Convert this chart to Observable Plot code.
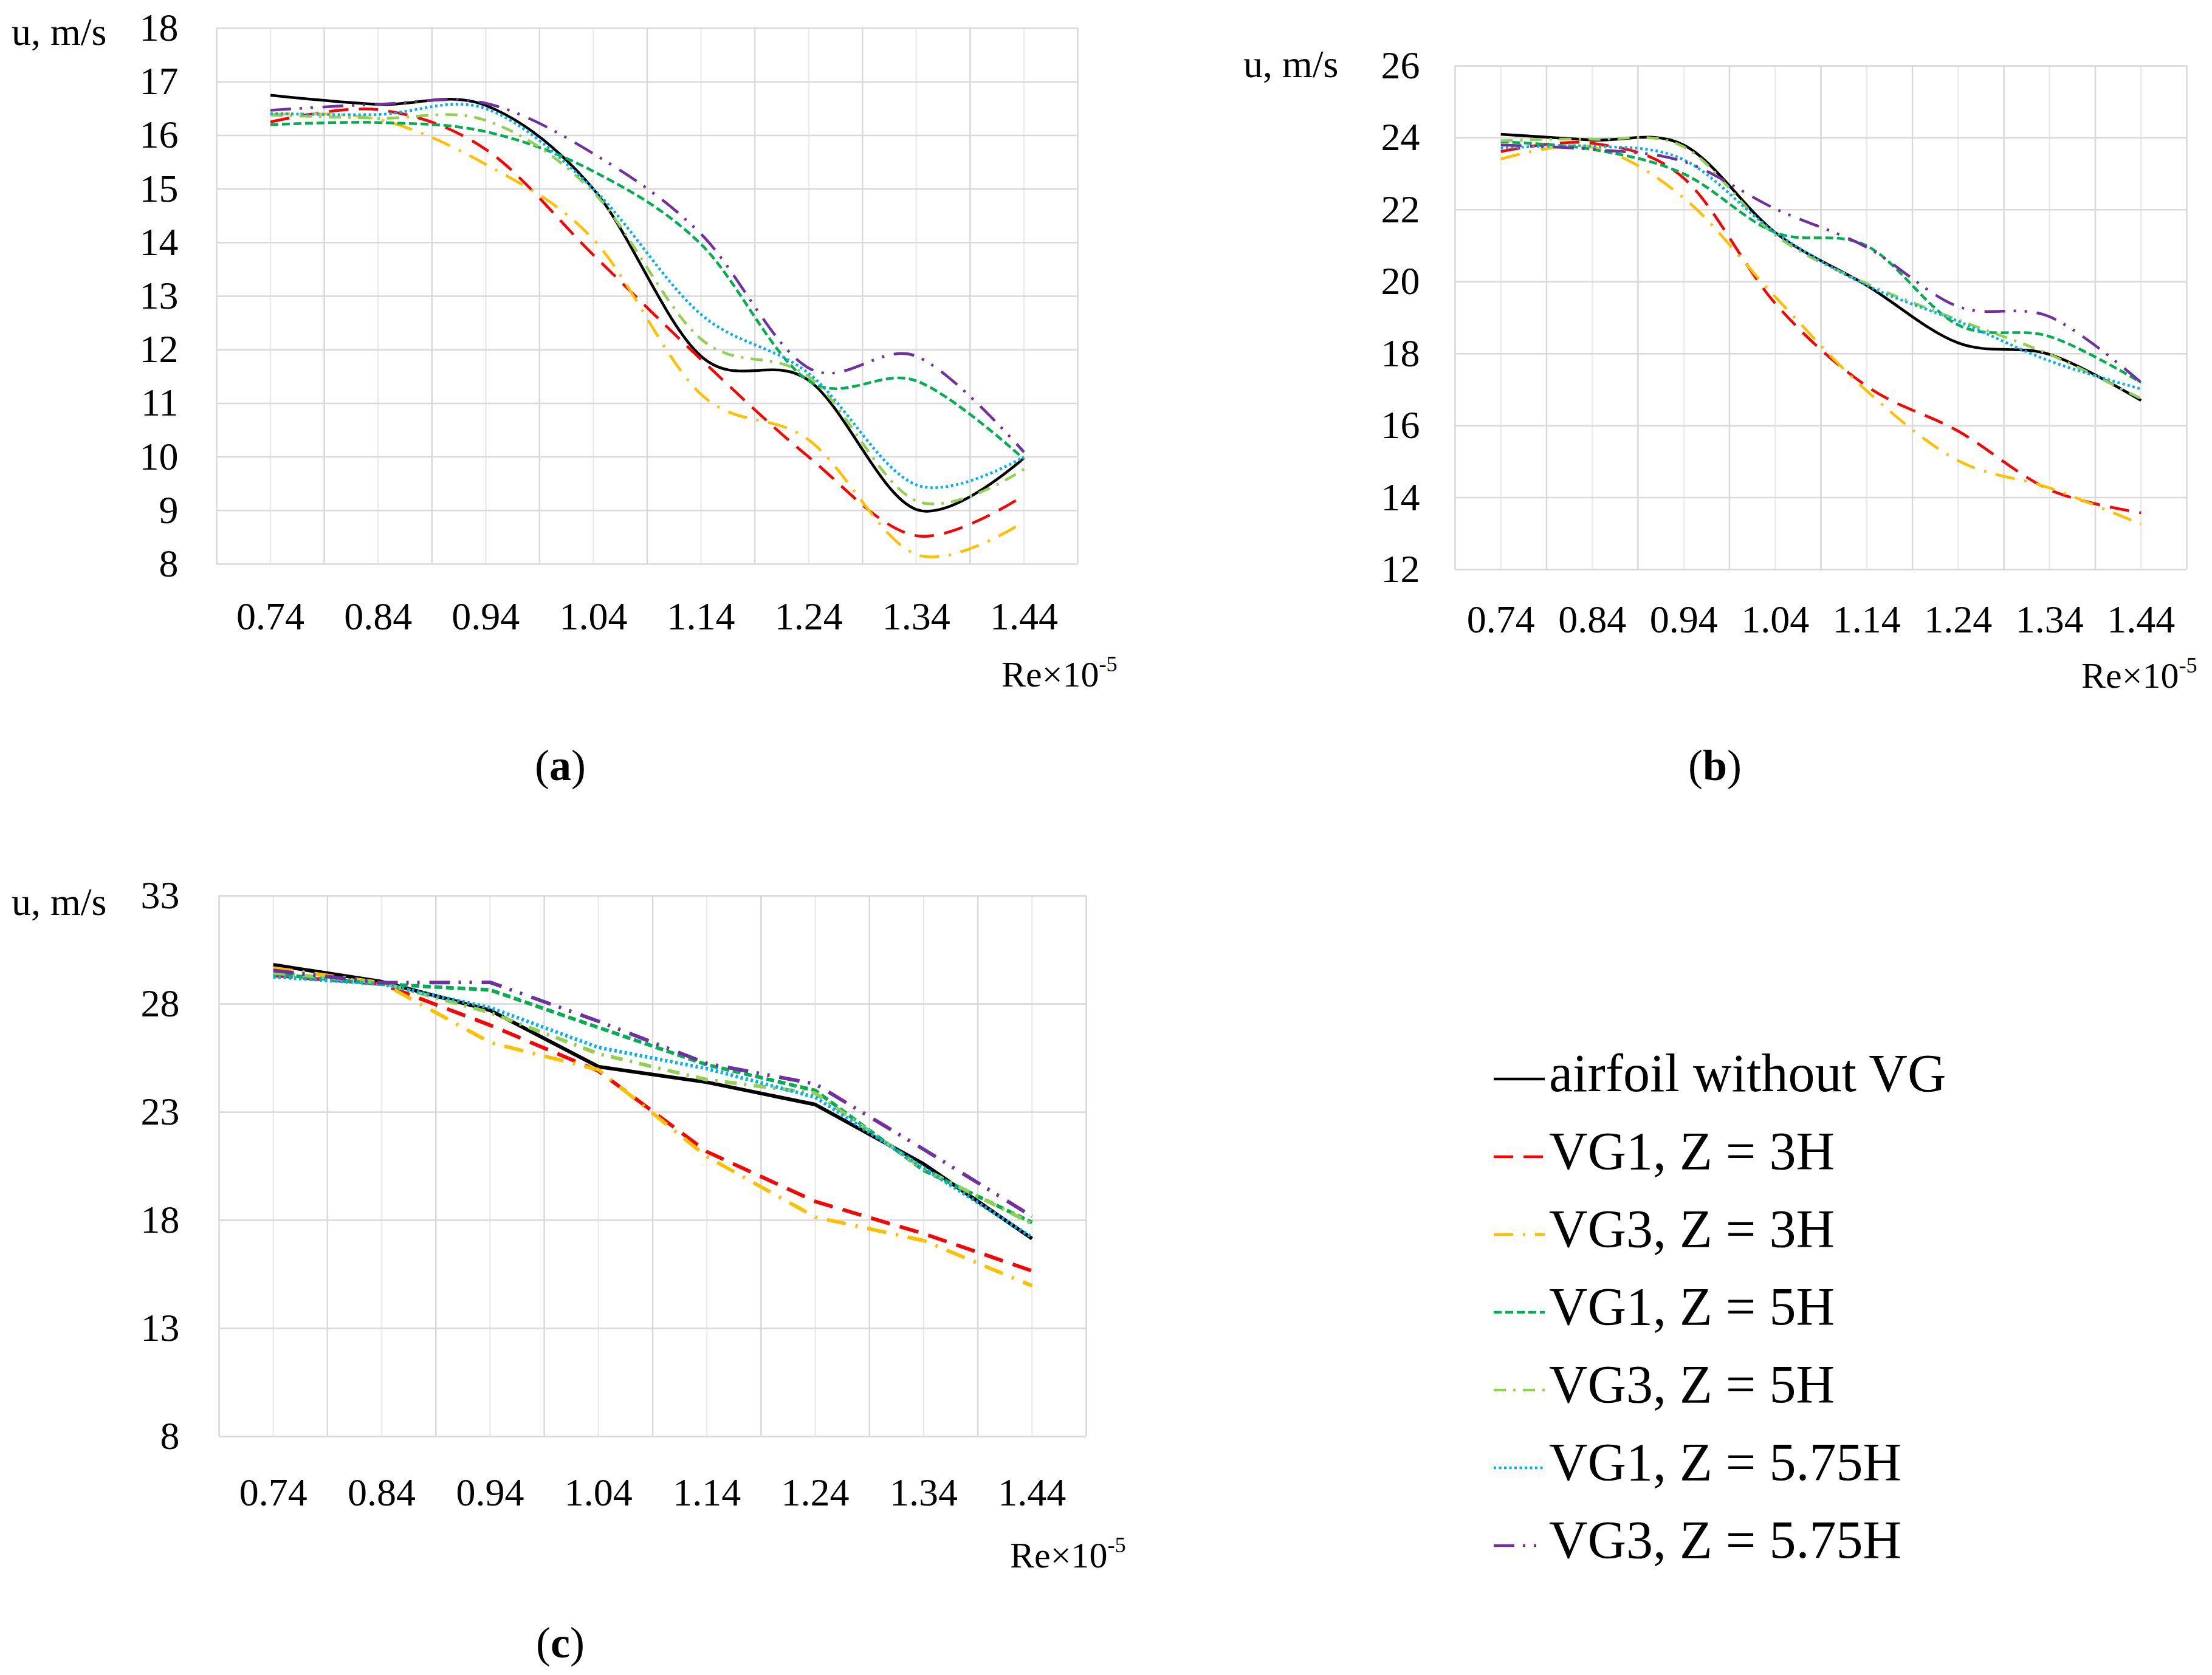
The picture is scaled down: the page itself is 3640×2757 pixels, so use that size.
<!DOCTYPE html>
<html>
<head>
<meta charset="utf-8">
<script src="https://cdn.jsdelivr.net/npm/d3@7"></script>
<script src="https://cdn.jsdelivr.net/npm/@observablehq/plot@0.6"></script>
<style>
  body { margin: 0; background: #fff; }
  #page { position: relative; width: 3640px; height: 2757px; background: #fff; font-family: "Liberation Serif", serif; color: #000; overflow: hidden; }
  .txt { position: absolute; line-height: 1; white-space: nowrap; }
  .panel { position: absolute; }
  sup { font-size: 0.6em; vertical-align: 0.7em; line-height: 0; }
</style>
</head>
<body>
<div id="page"></div>
<script>
// Reynolds number categories (Re x 10^-5)
const re = [0.74, 0.84, 0.94, 1.04, 1.14, 1.24, 1.34, 1.44];
const seriesNames = ['airfoil without VG', 'VG1, Z = 3H', 'VG3, Z = 3H', 'VG1, Z = 5H', 'VG3, Z = 5H', 'VG1, Z = 5.75H', 'VG3, Z = 5.75H'];

// panel (a)
const aAirfoil = [16.75, 16.58, 16.56, 15.0, 11.88, 11.43, 9.02, 9.98];
const aVG1_3H = [16.25, 16.48, 15.74, 13.77, 11.82, 10.0, 8.53, 9.28];
const aVG3_3H = [16.39, 16.3, 15.46, 14.06, 11.17, 10.32, 8.18, 8.79];
const aVG1_5H = [16.2, 16.24, 16.07, 15.33, 13.97, 11.42, 11.42, 9.96];
const aVG3_5H = [16.38, 16.32, 16.28, 14.94, 12.2, 11.5, 9.18, 9.77];
const aVG1_575H = [16.41, 16.39, 16.5, 15.0, 12.66, 11.56, 9.48, 10.0];
const aVG3_575H = [16.47, 16.58, 16.6, 15.66, 14.16, 11.66, 11.88, 10.09];
const aTicks = [8, 9, 10, 11, 12, 13, 14, 15, 16, 17, 18];

// panel (b)
const bAirfoil = [24.1, 23.94, 23.8, 21.37, 19.9, 18.3, 17.98, 16.7];
const bVG1_3H = [23.62, 23.85, 22.88, 19.4, 17.1, 15.85, 14.22, 13.58];
const bVG3_3H = [23.41, 23.74, 22.33, 19.58, 16.97, 15.03, 14.27, 13.26];
const bVG1_5H = [23.89, 23.68, 23.0, 21.37, 21.0, 18.8, 18.48, 17.2];
const bVG3_5H = [23.92, 23.96, 23.75, 21.3, 19.95, 18.94, 17.98, 16.75];
const bVG1_575H = [23.71, 23.77, 23.39, 21.37, 19.9, 18.9, 17.8, 17.02];
const bVG3_575H = [23.8, 23.68, 23.34, 22.03, 20.96, 19.31, 19.03, 17.2];
const bTicks = [12, 14, 16, 18, 20, 22, 24, 26];

// panel (c)
const cAirfoil = [29.81, 29.03, 27.71, 25.1, 24.38, 23.35, 20.6, 17.15];
const cVG1_3H = [29.32, 28.92, 27.02, 24.9, 21.17, 18.87, 17.38, 15.66];
const cVG3_3H = [29.66, 28.98, 26.22, 24.96, 20.94, 18.15, 17.06, 14.97];
const cVG1_5H = [29.38, 28.92, 28.65, 26.91, 25.19, 24.0, 20.31, 17.9];
const cVG3_5H = [29.44, 28.98, 27.6, 25.7, 24.5, 23.87, 20.37, 17.84];
const cVG1_575H = [29.26, 28.92, 27.83, 25.99, 25.01, 23.69, 20.42, 17.21];
const cVG3_575H = [29.55, 28.98, 29.0, 27.2, 25.25, 24.3, 21.28, 18.18];
const cTicks = [8, 13, 18, 23, 28, 33];

// line styles, in legend order
const colors = ['#000000', '#ff0000', '#ffc000', '#00b050', '#92d050', '#00b0f0', '#7030a0'];
const dashes = [null, '32,17', '32,16,4,16', '13,6', '20,12,4,12', '4,4.5', '34,14,4,14,4,16'];

// grid lines: light at categories, darker between them
const minorX = re;
const majorX = [0.69, 0.79, 0.89, 0.99, 1.09, 1.19, 1.29, 1.39, 1.49];

const page = d3.select('#page');

function drawPanel(cfg) {
  const lines = cfg.series.map((vals, i) =>
    Plot.line(re.map((x, j) => ({x, y: vals[j]})), {
      x: 'x', y: 'y',
      stroke: colors[i],
      strokeWidth: cfg.sw,
      strokeDasharray: dashes[i],
      strokeLinecap: 'butt',
      curve: cfg.curve
    })
  );
  const chart = Plot.plot({
    width: cfg.width, height: cfg.height,
    marginLeft: cfg.ml, marginTop: cfg.mt, marginRight: cfg.mr, marginBottom: cfg.mb,
    style: {fontFamily: 'Liberation Serif', fontSize: '64px', background: 'transparent', color: '#000', overflow: 'visible'},
    x: {domain: [0.69, 1.49]},
    y: {domain: [cfg.ticks[0], cfg.ticks[cfg.ticks.length - 1]]},
    marks: [
      Plot.ruleX(minorX, {stroke: '#ebebeb', strokeWidth: 2.5}),
      Plot.ruleY(cfg.ticks, {stroke: '#d9d9d9', strokeWidth: 2.5}),
      Plot.ruleX(majorX, {stroke: '#d9d9d9', strokeWidth: 2.5}),
      Plot.axisX({ticks: re, tickSize: 0, tickPadding: cfg.xPad, tickFormat: d => d.toFixed(2), label: null, fontSize: 64}),
      Plot.axisY({ticks: cfg.ticks, tickSize: 0, tickPadding: cfg.yPad, label: null, fontSize: 64}),
      ...lines
    ]
  });
  page.append('div').attr('class', 'panel')
    .style('left', cfg.left + 'px').style('top', cfg.top + 'px')
    .append(() => chart);
}

drawPanel({left: 0, top: 0, width: 1900, height: 1100, ml: 356, mt: 46, mr: 127, mb: 172,
  xPad: 62, yPad: 63, sw: 4.5, curve: 'cardinal', ticks: aTicks,
  series: [aAirfoil, aVG1_3H, aVG3_3H, aVG1_5H, aVG3_5H, aVG1_575H, aVG3_575H]});
drawPanel({left: 2000, top: 0, width: 1640, height: 1150, ml: 394, mt: 108, mr: 42, mb: 213,
  xPad: 58, yPad: 58, sw: 4.5, curve: 'cardinal', ticks: bTicks,
  series: [bAirfoil, bVG1_3H, bVG3_3H, bVG1_5H, bVG3_5H, bVG1_575H, bVG3_575H]});
drawPanel({left: 0, top: 1400, width: 1900, height: 1150, ml: 360, mt: 74, mr: 113, mb: 186,
  xPad: 68, yPad: 65, sw: 6, curve: 'linear', ticks: cTicks,
  series: [cAirfoil, cVG1_3H, cVG3_3H, cVG1_5H, cVG3_5H, cVG1_575H, cVG3_575H]});

// axis titles and panel captions
function text(html, left, top, size, extra) {
  const t = page.append('div').attr('class', 'txt').html(html)
    .style('left', left + 'px').style('top', top + 'px').style('font-size', size + 'px');
  if (extra) extra(t);
}
text('u, m/s', 19, 21, 64);
text('u, m/s', 2046, 74, 64);
text('u, m/s', 19, 1453, 64);
text('Re×10<sup>-5</sup>', 1648, 1080, 60);
text('Re×10<sup>-5</sup>', 3425, 1082, 60);
text('Re×10<sup>-5</sup>', 1662, 2530, 60);
const caption = t => t.style('width', '200px').style('text-align', 'center');
text('(<b>a</b>)', 822, 1224, 72, caption);
text('(<b>b</b>)', 2722, 1224, 72, caption);
text('(<b>c</b>)', 822, 2668, 72, caption);

// legend
seriesNames.forEach((name, i) => {
  const baseline = 1797 + 128 * i;
  const row = page.append('div').attr('class', 'txt')
    .style('left', '2458px').style('top', (baseline - 24 - 5) + 'px');
  const svg = row.append('svg').attr('width', 84).attr('height', 10);
  svg.append('line').attr('x1', 0).attr('x2', 84).attr('y1', 5).attr('y2', 5)
    .attr('stroke', colors[i]).attr('stroke-width', 4.5)
    .attr('stroke-dasharray', dashes[i]);
  text(name, 2549, baseline - 74, 88);
});
</script>
</body>
</html>
